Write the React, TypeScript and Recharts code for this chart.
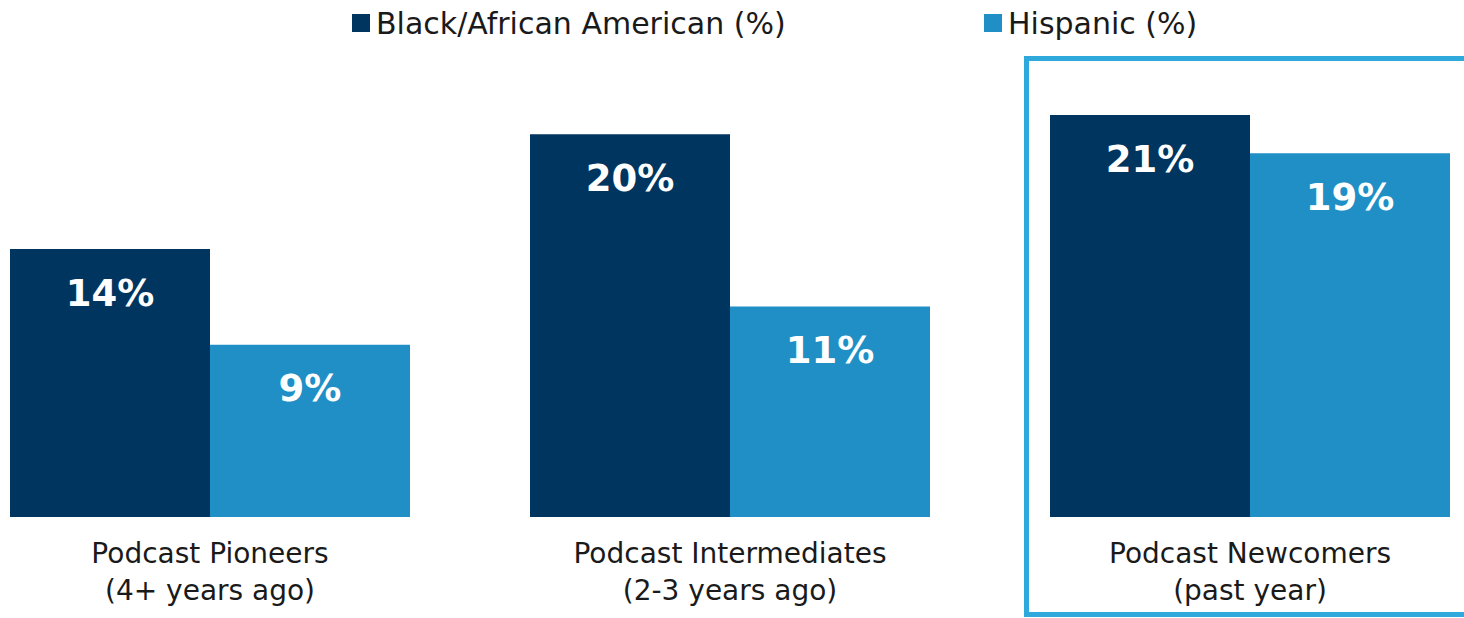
import React from "react";
import { BarChart, Bar, XAxis, YAxis, Legend, LabelList } from "recharts";

const categories = [
  ["Podcast Pioneers", "(4+ years ago)"],
  ["Podcast Intermediates", "(2-3 years ago)"],
  ["Podcast Newcomers", "(past year)"],
];
const black = [14, 20, 21];
const hispanic = [9, 11, 19];
const seriesNames = ["Black/African American (%)", "Hispanic (%)"];

const DARK = "#00355F";
const LIGHT = "#208FC6";
const FONT = "'DejaVu Sans', sans-serif";

const data = categories.map((c, i) => ({
  name: c.join("\n"),
  black: black[i],
  hispanic: hispanic[i],
}));

function CategoryTick(props: any) {
  const { x, y, payload } = props;
  const lines = String(payload.value).split("\n");
  return (
    <g transform={`translate(${x},${y})`}>
      {lines.map((l, i) => (
        <text
          key={i}
          x={0}
          y={28 + i * 37}
          textAnchor="middle"
          dominantBaseline="central"
          fill="#1a1a1a"
          fontSize={28}
          fontFamily={FONT}
        >
          {l}
        </text>
      ))}
    </g>
  );
}

function BarLabel(props: any) {
  const { x, y, width, value } = props;
  return (
    <text
      x={x + width / 2}
      y={y + 44}
      textAnchor="middle"
      dominantBaseline="central"
      fill="#ffffff"
      fontSize={37}
      fontWeight="bold"
      fontFamily={FONT}
    >
      {value}%
    </text>
  );
}

function LegendContent(props: any) {
  const items = props.payload || [];
  const lefts = [402, 1034];
  return (
    <div style={{ position: "relative", height: 0 }}>
      {items.map((it: any, i: number) => (
        <div
          key={i}
          style={{
            position: "absolute",
            left: lefts[i],
            top: 0,
            display: "flex",
            alignItems: "center",
            height: 46,
            whiteSpace: "nowrap",
          }}
        >
          <span
            style={{
              width: 18,
              height: 18,
              background: it.color,
              marginRight: 6,
              display: "inline-block",
            }}
          />
          <span style={{ fontFamily: FONT, fontSize: 30, color: "#1a1a1a" }}>
            {it.value}
          </span>
        </div>
      ))}
    </div>
  );
}

export default function App() {
  return (
    <div
      style={{
        position: "absolute",
        left: 0,
        top: 0,
        width: 1464,
        height: 618,
        overflow: "hidden",
        background: "#fff",
      }}
    >
      <div
        style={{
          position: "absolute",
          left: 1024,
          top: 56,
          width: 600,
          height: 551,
          border: "5px solid #2FA8DC",
        }}
      />
      <div style={{ position: "absolute", left: -50, top: 0 }}>
        <BarChart
          width={1560}
          height={618}
          data={data}
          margin={{ top: 38.5, right: 0, bottom: 0, left: 0 }}
          barCategoryGap={60}
          barGap={0}
        >
          <XAxis
            dataKey="name"
            axisLine={false}
            tickLine={false}
            interval={0}
            tick={<CategoryTick />}
            height={101}
          />
          <YAxis hide domain={[0, 25]} />
          <Legend
            verticalAlign="top"
            content={<LegendContent />}
            wrapperStyle={{ position: "absolute", left: 0, top: 0, width: 1560 }}
          />
          <Bar
            dataKey="black"
            name={seriesNames[0]}
            fill={DARK}
            isAnimationActive={false}
          >
            <LabelList dataKey="black" content={<BarLabel />} />
          </Bar>
          <Bar
            dataKey="hispanic"
            name={seriesNames[1]}
            fill={LIGHT}
            isAnimationActive={false}
          >
            <LabelList dataKey="hispanic" content={<BarLabel />} />
          </Bar>
        </BarChart>
      </div>
    </div>
  );
}
